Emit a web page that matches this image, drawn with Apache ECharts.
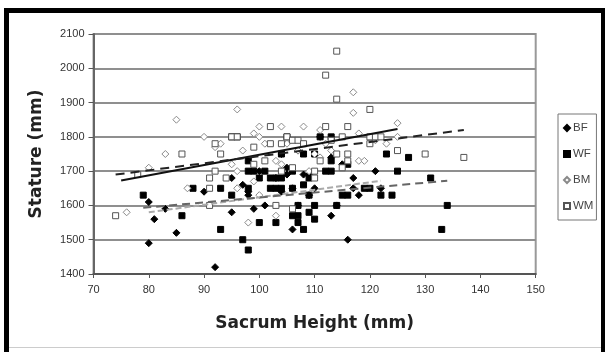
<!DOCTYPE html>
<html><head><meta charset="utf-8">
<script src="https://cdn.jsdelivr.net/npm/echarts@6/dist/echarts.min.js"></script>
<style>html,body{margin:0;padding:0;background:#fff}#c{width:605px;height:352px}</style>
</head><body><div id="c"></div>
<script>
var seriesNames = ['BF', 'WF', 'BM', 'WM'];
var xTicks = [70, 80, 90, 100, 110, 120, 130, 140, 150];
var yTicks = [1400, 1500, 1600, 1700, 1800, 1900, 2000, 2100];

var dataBF = [[80,1490],[80,1610],[81,1560],[83,1590],[85,1520],[90,1640],[92,1420],[95,1580],[95,1680],[97,1660],[98,1640],[99,1590],[100,1700],[101,1600],[103,1680],[104,1640],[104,1750],[105,1710],[105,1690],[106,1530],[106,1650],[107,1600],[107,1760],[108,1690],[109,1630],[110,1650],[111,1800],[113,1570],[113,1740],[114,1600],[115,1720],[116,1500],[117,1680],[117,1650],[118,1630],[121,1700],[122,1650],[98,1630],[109,1690]];
var dataWF = [[79,1630],[86,1570],[88,1650],[93,1530],[93,1650],[95,1630],[95,1800],[96,1800],[97,1500],[98,1470],[98,1650],[98,1700],[98,1730],[99,1700],[100,1550],[100,1680],[101,1700],[102,1680],[102,1650],[103,1650],[103,1680],[103,1550],[104,1650],[104,1680],[104,1750],[105,1800],[106,1570],[106,1650],[106,1700],[107,1550],[107,1570],[107,1600],[108,1530],[108,1660],[108,1750],[109,1580],[109,1630],[109,1680],[110,1560],[110,1600],[110,1750],[111,1800],[112,1700],[113,1700],[113,1730],[113,1800],[114,1600],[115,1630],[116,1630],[116,1720],[119,1650],[120,1650],[122,1630],[123,1750],[124,1630],[125,1700],[127,1740],[131,1680],[133,1530],[134,1600]];
var dataBM = [[76,1580],[80,1710],[83,1750],[85,1850],[87,1650],[90,1800],[92,1770],[93,1780],[95,1720],[96,1880],[96,1700],[96,1650],[97,1760],[98,1550],[99,1810],[99,1670],[100,1830],[100,1800],[100,1630],[101,1780],[103,1570],[103,1730],[104,1830],[104,1720],[105,1780],[107,1760],[108,1830],[109,1700],[110,1750],[111,1820],[111,1740],[112,1780],[113,1760],[117,1930],[117,1870],[118,1810],[118,1730],[119,1730],[121,1790],[123,1780],[125,1840],[125,1800]];
var dataWM = [[74,1570],[78,1690],[86,1750],[91,1680],[91,1650],[91,1600],[92,1700],[92,1780],[93,1750],[94,1680],[95,1800],[96,1800],[99,1770],[99,1720],[101,1730],[102,1830],[102,1780],[103,1600],[104,1700],[104,1780],[105,1800],[106,1590],[106,1710],[106,1790],[107,1790],[108,1780],[110,1700],[110,1680],[111,1730],[112,1830],[112,1980],[113,1790],[114,2050],[114,1910],[114,1750],[115,1710],[115,1800],[116,1830],[116,1750],[116,1730],[120,1880],[120,1800],[120,1780],[121,1800],[122,1800],[125,1760],[130,1750],[137,1740]];

var trendBF = [[80,1580],[122,1672]];
var trendWF = [[79,1593],[134,1672]];
var trendBM = [[75,1673],[125,1823]];
var trendWM = [[74,1690],[137,1820]];

var chart = echarts.init(document.getElementById('c'), null, {renderer: 'canvas'});
var tickFont = '"Liberation Sans", Arial, sans-serif';
var titleFont = '"DejaVu Sans", Verdana, sans-serif';

function scat(name, data, symbol, size, fill, stroke) {
  return {name: name, type: 'scatter', data: data, symbol: symbol, symbolSize: size,
    itemStyle: {color: fill, borderColor: stroke, borderWidth: 1, opacity: 1}, z: 3};
}
function trend(data, color, type, width) {
  return {type: 'line', data: data, symbol: 'none', silent: true, z: 4,
    lineStyle: {color: color, type: type, width: width}};
}

chart.setOption({
  animation: false,
  backgroundColor: '#fff',
  grid: {left: 93.5, right: 69.3, top: 34, bottom: 78, show: true, borderColor: '#999', borderWidth: 2, backgroundColor: 'transparent'},
  xAxis: {type: 'value', min: xTicks[0], max: xTicks[xTicks.length-1], interval: 10,
    axisLine: {show: true, lineStyle: {color: '#555', width: 2}},
    axisTick: {show: true, inside: false, length: 4, lineStyle: {color: '#555'}},
    splitLine: {show: false},
    axisLabel: {margin: 10, color: '#333', fontSize: 11, fontFamily: tickFont, formatter: function (v) { return String(v); }},
    name: 'Sacrum Height (mm)', nameLocation: 'middle', nameGap: 41,
    nameTextStyle: {fontFamily: titleFont, fontWeight: 'bold', fontSize: 17, color: '#222'}
  },
  yAxis: {type: 'value', min: yTicks[0], max: yTicks[yTicks.length-1], interval: 100,
    axisLine: {show: true, lineStyle: {color: '#666', width: 2}},
    axisTick: {show: true, inside: false, length: 5, lineStyle: {color: '#555'}},
    splitLine: {show: true, lineStyle: {color: '#8f8f8f', width: 2}},
    axisLabel: {margin: 9, color: '#333', fontSize: 11, fontFamily: tickFont, formatter: function (v) { return String(v); }},
    name: 'Stature (mm)', nameLocation: 'middle', nameGap: 48, nameRotate: 90,
    nameTextStyle: {fontFamily: titleFont, fontWeight: 'bold', fontSize: 17, color: '#222'}
  },
  legend: {data: seriesNames, orient: 'vertical', left: 558, top: 114,
    itemWidth: 6, itemHeight: 6, itemGap: 14, padding: [8, 3, 8, 5],
    borderColor: '#777', borderWidth: 1, backgroundColor: '#fff',
    textStyle: {fontFamily: tickFont, fontSize: 11.5, color: '#444', padding: [0, 0, 0, -2]}},
  graphic: [
    {type: 'rect', shape: {x: 4, y: 8, width: 601, height: 5}, style: {fill: '#000'}, z: 100},
    {type: 'rect', shape: {x: 4, y: 8, width: 5, height: 344}, style: {fill: '#000'}, z: 100},
    {type: 'rect', shape: {x: 601, y: 8, width: 4, height: 344}, style: {fill: '#000'}, z: 100},
    {type: 'rect', shape: {x: 9, y: 347, width: 592, height: 1}, style: {fill: '#ccc'}, z: 100}
  ],
  series: [
    scat('BF', dataBF, 'diamond', 7, '#000', '#000'),
    scat('WF', dataWF, 'rect', 6, '#000', '#000'),
    scat('BM', dataBM, 'diamond', 7, '#fff', '#8a8a8a'),
    scat('WM', dataWM, 'rect', 6, '#fff', '#555'),
    trend(trendBF, '#aaa', [6, 3], 2),
    trend(trendWF, '#666', [8, 5], 2),
    trend(trendBM, '#111', 'solid', 2),
    trend(trendWM, '#222', [9, 6], 2)
  ]
});
</script></body></html>
